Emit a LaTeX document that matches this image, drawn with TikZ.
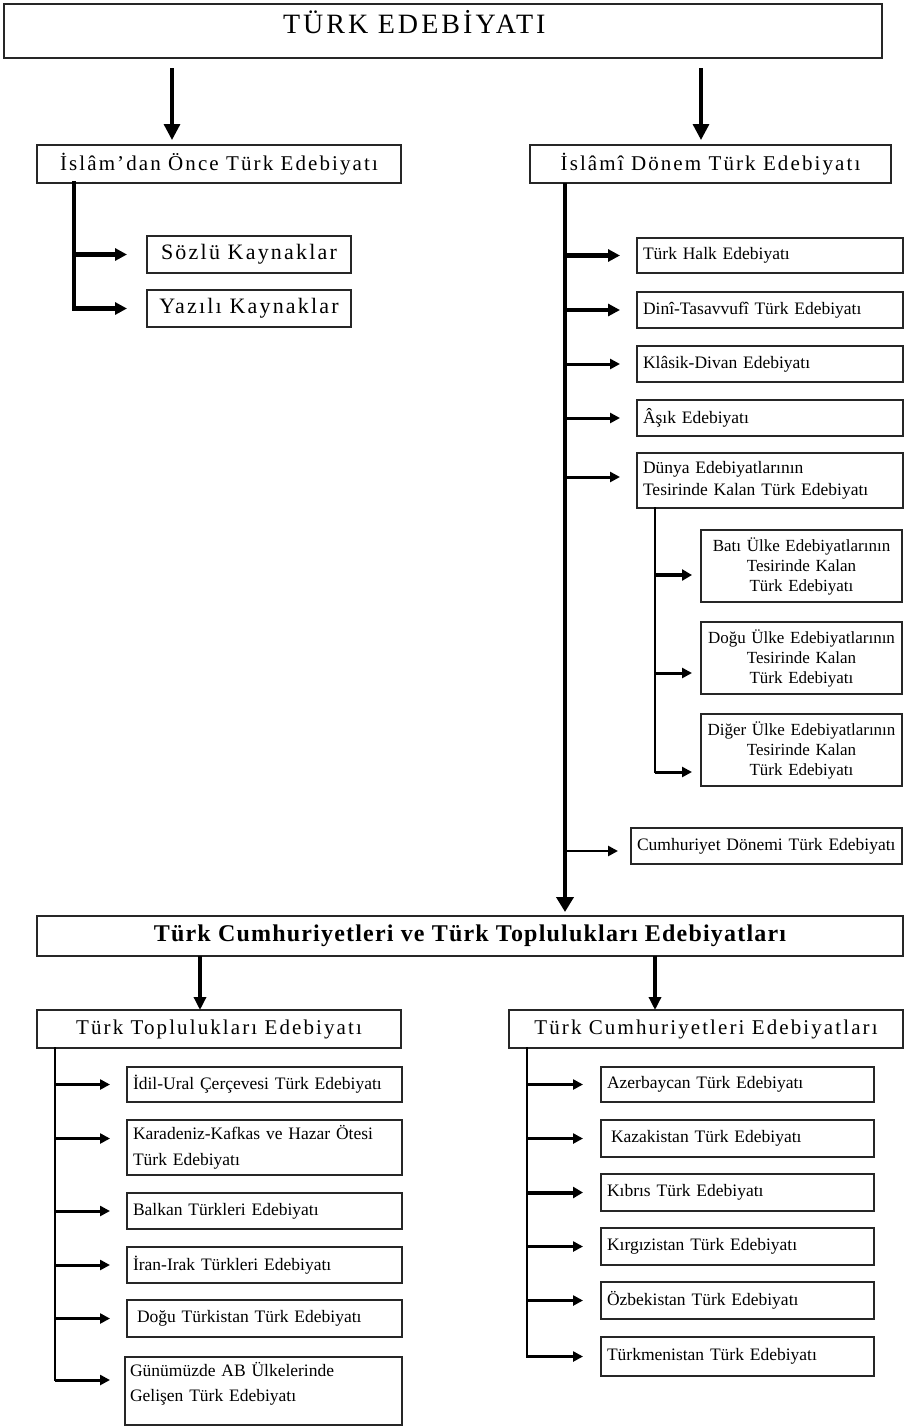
\documentclass[tikz,border=0pt]{standalone}
\usepackage{fontspec}
\setmainfont{Liberation Serif}
\newfontfamily\spcfont[LetterSpace=10]{Liberation Serif}
\newfontfamily\spcbfont[LetterSpace=5]{Liberation Serif}
\newfontfamily\spctfont[LetterSpace=11]{Liberation Serif}
\usetikzlibrary{arrows.meta}
\begin{document}
\begin{tikzpicture}[x=1pt,y=-1pt,
  bx/.style={draw=black!85, line width=1.4pt, inner sep=0pt, outer sep=0pt, anchor=north west},
  lvl/.style={bx, font=\spcfont\fontsize{21}{24}\selectfont},
  mid/.style={bx, font=\spcfont\fontsize{22}{24}\selectfont},
  sm/.style={bx, font=\fontsize{17.5}{21}\selectfont, align=left, inner xsep=6pt},
  smc/.style={bx, font=\fontsize{17}{20}\selectfont, align=center, inner xsep=1pt},
  trunk/.style={line width=4.5pt, line cap=rect},
  thin/.style={line width=2pt, line cap=rect},
  thk/.style={line width=4.5pt, -{Triangle[length=12pt,width=12pt]}},
  med/.style={line width=3pt, -{Triangle[length=10pt,width=10pt]}},
  lgt/.style={line width=2.5pt, -{Triangle[length=10pt,width=10pt]}},
  big/.style={line width=3.3pt, -{Triangle[length=16pt,width=16pt]}}
]
\useasboundingbox[fill=white] (0,0) rectangle (905,1427);

% named x positions
\coordinate (aL) at (172,0);
\coordinate (aR) at (701,0);
\coordinate (tL) at (74,0);
\coordinate (tR) at (565,0);
\coordinate (tD) at (655,0);
\coordinate (cL) at (200,0);
\coordinate (cR) at (655,0);
\coordinate (bL) at (55,0);
\coordinate (bR) at (527,0);

% top
\node[bx, minimum width=878pt, text width=878pt, align=left, text height=29pt, text depth=25pt,
      font=\spctfont\fontsize{28}{30}\selectfont] (top) at (4,4) {\hspace*{279pt}TÜRK EDEBİYATI};

\node[lvl, minimum width=364pt, minimum height=38pt] (islam) at (37,145) {İslâm’dan Önce Türk Edebiyatı};
\node[lvl, minimum width=361pt, minimum height=38pt] (islami) at (530,145) {İslâmî Dönem Türk Edebiyatı};

\node[mid, minimum width=204pt, minimum height=37pt] (sozlu) at (147,236) {Sözlü Kaynaklar};
\node[mid, minimum width=204pt, minimum height=37pt] (yazili) at (147,290) {Yazılı Kaynaklar};

\node[sm, text width=254pt, minimum height=35pt] (halk) at (637,238) {Türk Halk Edebiyatı};
\node[sm, text width=254pt, minimum height=36pt] (dini) at (637,292) {Dinî-Tasavvufî Türk Edebiyatı};
\node[sm, text width=254pt, minimum height=36pt] (klasik) at (637,346) {Klâsik-Divan Edebiyatı};
\node[sm, text width=254pt, minimum height=36pt] (asik) at (637,400) {Âşık Edebiyatı};
\node[sm, text width=254pt, minimum height=55pt, font=\fontsize{17.5}{22}\selectfont] (dunya) at (637,453) {Dünya Edebiyatlarının\\Tesirinde Kalan Türk Edebiyatı};

\node[smc, text width=199pt, minimum height=72pt] (bati) at (701,530) {Batı Ülke Edebiyatlarının\\Tesirinde Kalan\\Türk Edebiyatı};
\node[smc, text width=199pt, minimum height=72pt] (dogu) at (701,622) {Doğu Ülke Edebiyatlarının\\Tesirinde Kalan\\Türk Edebiyatı};
\node[smc, text width=199pt, minimum height=72pt] (diger) at (701,714) {Diğer Ülke Edebiyatlarının\\Tesirinde Kalan\\Türk Edebiyatı};

\node[sm, inner xsep=6pt, text width=259pt, minimum height=36pt] (cdon) at (631,828) {Cumhuriyet Dönemi Türk Edebiyatı};

\node[bx, minimum width=866pt, minimum height=40pt, font=\spcbfont\bfseries\fontsize{24}{26}\selectfont] (ctop) at (37,916) {Türk Cumhuriyetleri ve Türk Toplulukları Edebiyatları};

\node[lvl, minimum width=364pt, minimum height=38pt] (ttop) at (37,1010) {Türk Toplulukları Edebiyatı};
\node[lvl, minimum width=394pt, minimum height=38pt] (tcum) at (509,1010) {Türk Cumhuriyetleri Edebiyatları};

\node[sm, text width=263pt, minimum height=35pt] (idil) at (127,1067) {İdil-Ural Çerçevesi Türk Edebiyatı};
\node[sm, text width=263pt, minimum height=55pt, font=\fontsize{17.5}{26}\selectfont] (kara) at (127,1120) {Karadeniz-Kafkas ve Hazar Ötesi\\Türk Edebiyatı};
\node[sm, text width=263pt, minimum height=36pt] (balkan) at (127,1193) {Balkan Türkleri Edebiyatı};
\node[sm, text width=263pt, minimum height=36pt] (iran) at (127,1247) {İran-Irak Türkleri Edebiyatı};
\node[sm, text width=263pt, minimum height=37pt] (dtur) at (127,1300) {\hspace*{4pt}Doğu Türkistan Türk Edebiyatı};
\node[sm, inner xsep=5pt, text width=267pt, minimum height=68pt, font=\fontsize{17.5}{25}\selectfont] (gun) at (125,1357) {Günümüzde AB Ülkelerinde\\Gelişen Türk Edebiyatı\\[-6pt]\mbox{}};

\node[sm, text width=261pt, minimum height=35pt] (azer) at (601,1067) {Azerbaycan Türk Edebiyatı};
\node[sm, text width=261pt, minimum height=37pt] (kaza) at (601,1120) {\hspace*{4pt}Kazakistan Türk Edebiyatı};
\node[sm, text width=261pt, minimum height=37pt] (kibris) at (601,1174) {Kıbrıs Türk Edebiyatı};
\node[sm, text width=261pt, minimum height=37pt] (kirg) at (601,1228) {Kırgızistan Türk Edebiyatı};
\node[sm, text width=261pt, minimum height=37pt] (ozbek) at (601,1282) {Özbekistan Türk Edebiyatı};
\node[sm, text width=261pt, minimum height=39pt] (turkm) at (601,1337) {Türkmenistan Türk Edebiyatı};

% top arrows
\draw[big, shorten <=10pt, shorten >=5pt] (top.south -| aL) -- (islam.north -| aL);
\draw[big, shorten <=10pt, shorten >=5pt] (top.south -| aR) -- (islami.north -| aR);

% left trunk
\draw[trunk] (islam.south -| tL) -- (yazili.west -| tL);
\draw[thk, shorten >=20pt] (sozlu.west -| tL) -- (sozlu.west);
\draw[thk, shorten >=20pt] (yazili.west -| tL) -- (yazili.west);

% right trunk
\draw[line width=4.5pt, -{Triangle[length=15pt,width=17pt]}, shorten >=4pt] (islami.south -| tR) -- (ctop.north -| tR);
\draw[thk, shorten >=17pt] (halk.west -| tR) -- (halk.west);
\draw[thk, shorten >=17pt] (dini.west -| tR) -- (dini.west);
\draw[med, shorten >=17pt] (klasik.west -| tR) -- (klasik.west);
\draw[med, shorten >=17pt] (asik.west -| tR) -- (asik.west);
\draw[med, shorten >=17pt] ([yshift=3.5pt]dunya.west -| tR) -- ([yshift=3.5pt]dunya.west);
\draw[lgt, shorten >=13pt] ([yshift=-5pt]cdon.west -| tR) -- ([yshift=-5pt]cdon.west);

% dunya sub-trunk
\draw[thin] (dunya.south -| tD) -- ([yshift=-22pt]diger.west -| tD);
\draw[line width=4pt, -{Triangle[length=10pt,width=11pt]}, shorten >=9pt] ([yshift=-9pt]bati.west -| tD) -- ([yshift=-9pt]bati.west);
\draw[med, shorten >=9pt] ([yshift=-15pt]dogu.west -| tD) -- ([yshift=-15pt]dogu.west);
\draw[med, shorten >=9pt] ([yshift=-22pt]diger.west -| tD) -- ([yshift=-22pt]diger.west);

% bottom level
\draw[line width=4pt, -{Triangle[length=13pt,width=12pt]}] (ctop.south -| cL) -- (ttop.north -| cL);
\draw[line width=4pt, -{Triangle[length=13pt,width=12pt]}] (ctop.south -| cR) -- (tcum.north -| cR);

\draw[thin] (ttop.south -| bL) -- ([yshift=11pt]gun.west -| bL);
\draw[med, shorten >=17pt] (idil.west -| bL) -- (idil.west);
\draw[med, shorten >=17pt] ([yshift=9pt]kara.west -| bL) -- ([yshift=9pt]kara.west);
\draw[med, shorten >=17pt] (balkan.west -| bL) -- (balkan.west);
\draw[med, shorten >=17pt] (iran.west -| bL) -- (iran.west);
\draw[med, shorten >=17pt] (dtur.west -| bL) -- (dtur.west);
\draw[med, shorten >=15pt] ([yshift=11pt]gun.west -| bL) -- ([yshift=11pt]gun.west);

\draw[line width=2.5pt, line cap=rect] (tcum.south -| bR) -- (turkm.west -| bR);
\draw[med, shorten >=18pt] (azer.west -| bR) -- (azer.west);
\draw[med, shorten >=18pt] (kaza.west -| bR) -- (kaza.west);
\draw[line width=4pt, -{Triangle[length=10pt,width=11pt]}, shorten >=18pt] (kibris.west -| bR) -- (kibris.west);
\draw[med, shorten >=18pt] (kirg.west -| bR) -- (kirg.west);
\draw[med, shorten >=18pt] (ozbek.west -| bR) -- (ozbek.west);
\draw[med, shorten >=18pt] (turkm.west -| bR) -- (turkm.west);
\end{tikzpicture}
\end{document}
